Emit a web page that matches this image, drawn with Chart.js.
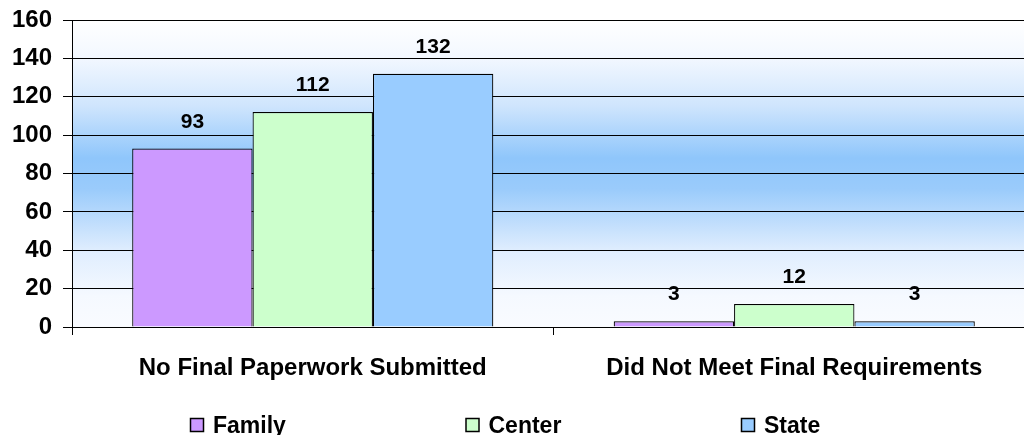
<!DOCTYPE html>
<html>
<head>
<meta charset="utf-8">
<script src="https://cdn.jsdelivr.net/npm/chart.js@4"></script>
<style>
  html, body { margin: 0; padding: 0; background: #fff; overflow: hidden; }
  #wrap { width: 1040px; height: 435px; }
</style>
</head>
<body>
<div id="wrap"><canvas id="chart" width="1040" height="435"></canvas></div>
<script>
// Chart data
const categories = ['No Final Paperwork Submitted', 'Did Not Meet Final Requirements'];
const familyValues = [93, 3];
const centerValues = [112, 12];
const stateValues = [132, 3];
const yTicks = [0, 20, 40, 60, 80, 100, 120, 140, 160];

const FONT = "'Liberation Sans', Arial, sans-serif";

// Blue band behind the plot
const plotBackground = {
    id: 'plotBackground',
    beforeDraw(chart) {
        const { ctx, chartArea: a } = chart;
        const g = ctx.createLinearGradient(0, a.top, 0, a.bottom);
        g.addColorStop(0, '#ffffff');
        g.addColorStop(0.12, '#f3f8ff');
        g.addColorStop(0.28, '#cfe5fd');
        g.addColorStop(0.45, '#8fc6fb');
        g.addColorStop(0.55, '#9acbfb');
        g.addColorStop(0.75, '#dfedfe');
        g.addColorStop(0.9, '#f5f9ff');
        g.addColorStop(1, '#f9fbff');
        ctx.save();
        ctx.fillStyle = g;
        ctx.fillRect(a.left, a.top, a.right - a.left, a.bottom - a.top);
        ctx.restore();
    }
};

// Value labels above bars
const valueLabels = {
    id: 'valueLabels',
    afterDatasetsDraw(chart) {
        const { ctx } = chart;
        ctx.save();
        ctx.font = 'bold 21px ' + FONT;
        ctx.fillStyle = '#000';
        ctx.textAlign = 'center';
        ctx.textBaseline = 'alphabetic';
        chart.data.datasets.forEach((ds, i) => {
            chart.getDatasetMeta(i).data.forEach((bar, j) => {
                ctx.fillText(String(ds.data[j]), bar.x, bar.y - 21);
            });
        });
        ctx.restore();
    }
};

// Excel-style legend with wide spacing
const wideLegend = {
    id: 'wideLegend',
    afterDraw(chart) {
        const { ctx } = chart;
        ctx.save();
        ctx.font = 'bold 23px ' + FONT;
        ctx.textBaseline = 'alphabetic';
        ctx.textAlign = 'left';
        chart.data.datasets.forEach((ds, i) => {
            const x = 190 + i * 275.5;
            ctx.fillStyle = ds.backgroundColor;
            ctx.fillRect(x + 0.5, 418.5, 13, 13);
            ctx.strokeStyle = '#000';
            ctx.lineWidth = 1.5;
            ctx.strokeRect(x + 0.5, 418.5, 13, 13);
            ctx.fillStyle = '#000';
            ctx.fillText(ds.label, x + 23, 432.5);
        });
        ctx.restore();
    }
};

const ctx = document.getElementById('chart').getContext('2d');
new Chart(ctx, {
    type: 'bar',
    data: {
        labels: categories,
        datasets: [
            { label: 'Family', data: familyValues, backgroundColor: '#cc99ff', borderColor: '#000', borderWidth: 1.2 },
            { label: 'Center', data: centerValues, backgroundColor: '#ccffcc', borderColor: '#000', borderWidth: 1.2 },
            { label: 'State', data: stateValues, backgroundColor: '#99ccff', borderColor: '#000', borderWidth: 1.2 }
        ]
    },
    options: {
        responsive: false,
        animation: false,
        layout: { padding: { top: 20, right: 5, left: 0, bottom: 0 } },
        datasets: { bar: { categoryPercentage: 0.75, barPercentage: 1.0 } },
        plugins: { legend: { display: false }, tooltip: { enabled: false } },
        scales: {
            x: {
                offset: true,
                grid: { offset: true, drawOnChartArea: false, color: '#000', tickLength: 8 },
                border: { display: true, color: '#000', width: 1 },
                ticks: { color: '#000', padding: 19, maxRotation: 0, font: { family: FONT, size: 24, weight: 'bold' } },
                afterFit(scale) { scale.height = 108; scale.paddingLeft = 0; scale.paddingRight = 0; }
            },
            y: {
                min: 0,
                max: 160,
                afterBuildTicks(scale) { scale.ticks = yTicks.map(v => ({ value: v })); },
                grid: { color: '#000', tickLength: 9, lineWidth: 1 },
                border: { display: true, color: '#000', width: 1 },
                ticks: { color: '#000', padding: 11, font: { family: FONT, size: 24, weight: 'bold' } },
                afterFit(scale) { scale.width = 72; scale.paddingTop = 0; scale.paddingBottom = 0; }
            }
        }
    },
    plugins: [plotBackground, valueLabels, wideLegend]
});
</script>
</body>
</html>
